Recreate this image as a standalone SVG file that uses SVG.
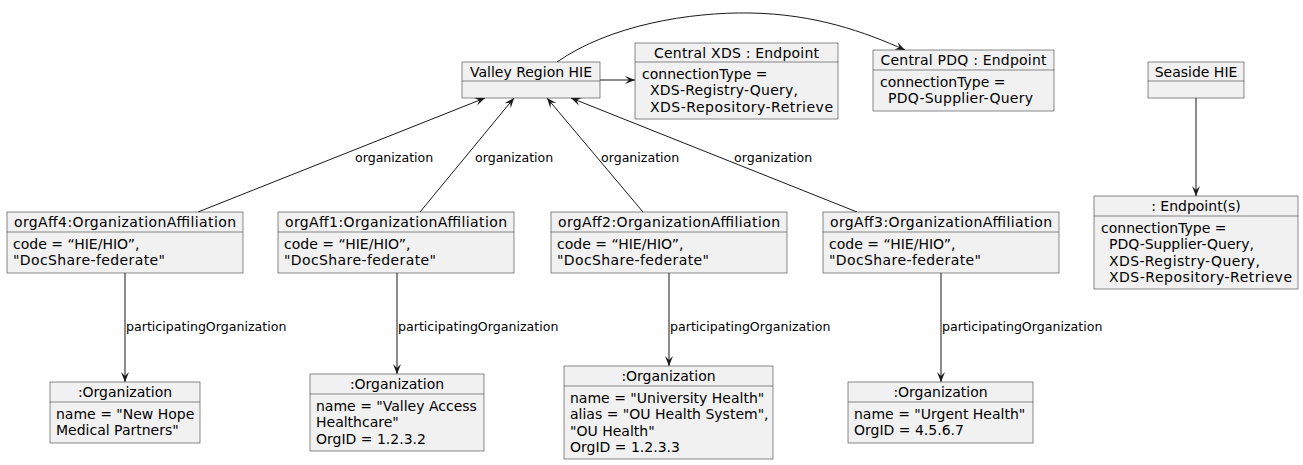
<svg xmlns="http://www.w3.org/2000/svg" width="1303" height="465" viewBox="0 0 1303 465">
<style>
.box{fill:#F1F1F1;stroke:#181818;stroke-width:0.5}
.t{font-family:"DejaVu Sans",sans-serif;font-size:14px;fill:#000}
.c{text-anchor:middle}
.lbl{font-family:"DejaVu Sans",sans-serif;font-size:12.6px;fill:#000}
.e{fill:none;stroke:#181818;stroke-width:1}
</style>
<defs>
<marker id="ah" markerUnits="userSpaceOnUse" viewBox="0 0 10 10" refX="10" refY="5" markerWidth="10" markerHeight="10" orient="auto">
<path d="M10,5 L0,1 L4,5 L0,9 Z" fill="#181818"/>
</marker>
</defs>
<rect width="1303" height="465" fill="#FFFFFF"/>
<g id="connectors">
<path class="e" d="M600,80 L635,80" marker-end="url(#ah)"/>
<path class="e" d="M557,62 C610,25 690,12 750,13 C815,14 865,32 905,50" marker-end="url(#ah)"/>
<path class="e" d="M198,212 L485,98" marker-end="url(#ah)"/>
<path class="e" d="M420,212 L514,98" marker-end="url(#ah)"/>
<path class="e" d="M643,212 L547,98" marker-end="url(#ah)"/>
<path class="e" d="M857,212 L571,98" marker-end="url(#ah)"/>
<text class="lbl" x="355" y="162">organization</text>
<text class="lbl" x="475" y="162">organization</text>
<text class="lbl" x="601" y="162">organization</text>
<text class="lbl" x="734" y="162">organization</text>
<path class="e" d="M125,273 L125,382" marker-end="url(#ah)"/>
<path class="e" d="M397,273 L397,374" marker-end="url(#ah)"/>
<path class="e" d="M669,273 L669,366" marker-end="url(#ah)"/>
<path class="e" d="M941,273 L941,382" marker-end="url(#ah)"/>
<text class="lbl" x="126" y="331">participatingOrganization</text>
<text class="lbl" x="398" y="331">participatingOrganization</text>
<text class="lbl" x="670" y="331">participatingOrganization</text>
<text class="lbl" x="942" y="331">participatingOrganization</text>
<path class="e" d="M1196,98 L1196,196" marker-end="url(#ah)"/>
</g>
<g id="valley">
<rect class="box" x="462" y="62" width="138" height="36"/>
<line class="box" x1="462" y1="81" x2="600" y2="81"/>
<text class="t c" x="531" y="77">Valley Region HIE</text>
</g>
<g id="centralXDS">
<rect class="box" x="635" y="43" width="203" height="76"/>
<line class="box" x1="635" y1="62" x2="838" y2="62"/>
<text class="t c" x="736.5" y="57.5" textLength="165" lengthAdjust="spacing">Central XDS : Endpoint</text>
<text class="t" x="642" y="79">connectionType =</text>
<text class="t" x="650" y="95.3" textLength="148" lengthAdjust="spacing">XDS-Registry-Query,</text>
<text class="t" x="650" y="111.6" textLength="183" lengthAdjust="spacing">XDS-Repository-Retrieve</text>
</g>
<g id="centralPDQ">
<rect class="box" x="873" y="50" width="181" height="61"/>
<line class="box" x1="873" y1="70" x2="1054" y2="70"/>
<text class="t c" x="963.5" y="65" textLength="166" lengthAdjust="spacing">Central PDQ : Endpoint</text>
<text class="t" x="880" y="87">connectionType =</text>
<text class="t" x="888" y="103.3" textLength="145" lengthAdjust="spacing">PDQ-Supplier-Query</text>
</g>
<g id="seaside">
<rect class="box" x="1148" y="62" width="96" height="36"/>
<line class="box" x1="1148" y1="81" x2="1244" y2="81"/>
<text class="t c" x="1196" y="77">Seaside HIE</text>
</g>
<g id="endpoints">
<rect class="box" x="1094" y="196" width="204" height="93"/>
<line class="box" x1="1094" y1="216" x2="1298" y2="216"/>
<text class="t c" x="1196" y="211">: Endpoint(s)</text>
<text class="t" x="1101" y="233">connectionType =</text>
<text class="t" x="1109" y="249.3" textLength="145" lengthAdjust="spacing">PDQ-Supplier-Query,</text>
<text class="t" x="1109" y="265.6" textLength="151" lengthAdjust="spacing">XDS-Registry-Query,</text>
<text class="t" x="1109" y="281.9" textLength="183" lengthAdjust="spacing">XDS-Repository-Retrieve</text>
</g>
<g id="orgAff4">
<rect class="box" x="7" y="212" width="236" height="61"/>
<line class="box" x1="7" y1="232" x2="243" y2="232"/>
<text class="t c" x="125" y="227" textLength="222" lengthAdjust="spacing">orgAff4:OrganizationAffiliation</text>
<text class="t" x="13" y="249">code = “HIE/HIO”,</text>
<text class="t" x="13" y="265.3" textLength="152" lengthAdjust="spacing">"DocShare-federate"</text>
</g>
<g id="orgAff1">
<rect class="box" x="278" y="212" width="236" height="61"/>
<line class="box" x1="278" y1="232" x2="514" y2="232"/>
<text class="t c" x="396" y="227" textLength="222" lengthAdjust="spacing">orgAff1:OrganizationAffiliation</text>
<text class="t" x="284" y="249">code = “HIE/HIO”,</text>
<text class="t" x="284" y="265.3" textLength="152" lengthAdjust="spacing">"DocShare-federate"</text>
</g>
<g id="orgAff2">
<rect class="box" x="551" y="212" width="236" height="61"/>
<line class="box" x1="551" y1="232" x2="787" y2="232"/>
<text class="t c" x="669" y="227" textLength="222" lengthAdjust="spacing">orgAff2:OrganizationAffiliation</text>
<text class="t" x="557" y="249">code = “HIE/HIO”,</text>
<text class="t" x="557" y="265.3" textLength="152" lengthAdjust="spacing">"DocShare-federate"</text>
</g>
<g id="orgAff3">
<rect class="box" x="823" y="212" width="236" height="61"/>
<line class="box" x1="823" y1="232" x2="1059" y2="232"/>
<text class="t c" x="941" y="227" textLength="222" lengthAdjust="spacing">orgAff3:OrganizationAffiliation</text>
<text class="t" x="829" y="249">code = “HIE/HIO”,</text>
<text class="t" x="829" y="265.3" textLength="152" lengthAdjust="spacing">"DocShare-federate"</text>
</g>
<g id="org4">
<rect class="box" x="50" y="382" width="150" height="61"/>
<line class="box" x1="50" y1="402" x2="200" y2="402"/>
<text class="t c" x="125" y="397">:Organization</text>
<text class="t" x="56" y="419">name = "New Hope</text>
<text class="t" x="56" y="435.3">Medical Partners"</text>
</g>
<g id="org1">
<rect class="box" x="310" y="374" width="174" height="77"/>
<line class="box" x1="310" y1="394" x2="484" y2="394"/>
<text class="t c" x="397" y="389">:Organization</text>
<text class="t" x="316" y="411">name = "Valley Access</text>
<text class="t" x="316" y="427.3">Healthcare"</text>
<text class="t" x="316" y="443.6">OrgID = 1.2.3.2</text>
</g>
<g id="org2">
<rect class="box" x="564" y="366" width="209" height="93"/>
<line class="box" x1="564" y1="386" x2="773" y2="386"/>
<text class="t c" x="668.5" y="381">:Organization</text>
<text class="t" x="570" y="403">name = "University Health"</text>
<text class="t" x="570" y="419.3">alias = "OU Health System",</text>
<text class="t" x="570" y="435.6">"OU Health"</text>
<text class="t" x="570" y="451.9">OrgID = 1.2.3.3</text>
</g>
<g id="org3">
<rect class="box" x="848" y="382" width="185" height="61"/>
<line class="box" x1="848" y1="402" x2="1033" y2="402"/>
<text class="t c" x="940.5" y="397">:Organization</text>
<text class="t" x="854" y="419">name = "Urgent Health"</text>
<text class="t" x="854" y="435.3">OrgID = 4.5.6.7</text>
</g>
</svg>
